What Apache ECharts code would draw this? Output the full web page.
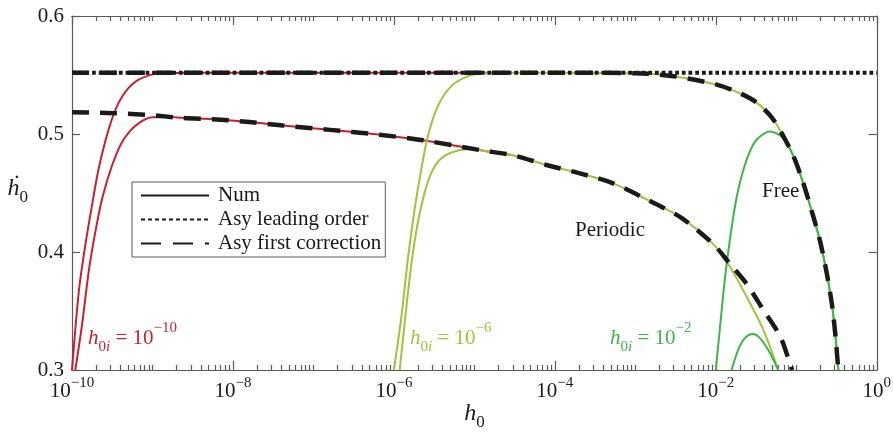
<!DOCTYPE html>
<html>
<head>
<meta charset="utf-8">
<title>h0 dot vs h0</title>
<script src="https://cdn.jsdelivr.net/npm/echarts@6/dist/echarts.min.js"></script>
<style>
html, body { margin: 0; padding: 0; background: #fff; }
#main { width: 894px; height: 436px; }
</style>
</head>
<body>
<div id="main"></div>
<script>
// values (h0 on a log axis, h0-dot linear)
var xTickExp = [-10, -8, -6, -4, -2, 0];
var yTicks = [0.3, 0.4, 0.5, 0.6];

// asymptotics
var leadH = [1e-10, 1];
var leadV = [0.552, 0.552];

var perAsyH = [1e-10, 3.4e-10, 8.7e-10, 2.3e-9, 6.3e-9, 1.6e-8, 4.2e-8, 1.6e-7, 6.6e-7, 2.3e-6, 1.2e-5, 3.0e-5, 7.9e-5, 2.0e-4, 5.2e-4, 1.4e-3, 3.7e-3, 9.3e-3, 0.015, 0.024, 0.039, 0.063, 0.083, 0.089];
var perAsyV = [0.5185, 0.5176, 0.5162, 0.5137, 0.5123, 0.5101, 0.5072, 0.5035, 0.4994, 0.4947, 0.4863, 0.482, 0.4737, 0.4668, 0.4584, 0.4444, 0.4291, 0.4067, 0.3899, 0.3732, 0.3509, 0.3285, 0.3061, 0.30];

var freeAsyH = [1e-10, 1e-4, 1e-3, 3e-3, 0.01, 0.02, 0.032, 0.051, 0.087, 0.12, 0.16, 0.197, 0.24, 0.28, 0.31, 0.33, 0.335];
var freeAsyV = [0.552, 0.552, 0.5515, 0.549, 0.542, 0.5345, 0.5268, 0.5129, 0.485, 0.46, 0.4318, 0.4095, 0.3815, 0.3536, 0.3257, 0.3034, 0.30];

// numerics, h0i = 1e-10 (red)
var redFreeH = [1e-10, 1.22e-10, 1.47e-10, 1.78e-10, 2.15e-10, 2.87e-10, 3.82e-10, 5.6e-10, 9.0e-10, 1.46e-9, 3e-9, 2e-5];
var redFreeV = [0.3, 0.3676, 0.4067, 0.4402, 0.471, 0.5045, 0.5268, 0.5422, 0.5497, 0.5515, 0.552, 0.552];
var redPerH = [1.1e-10, 1.34e-10, 1.62e-10, 1.96e-10, 2.38e-10, 3.16e-10, 4.2e-10, 6.2e-10, 9.9e-10, 1.76e-9];
var redPerV = [0.3, 0.3396, 0.3844, 0.4179, 0.4458, 0.4737, 0.4933, 0.5072, 0.5143, 0.5145];

// numerics, h0i = 1e-6 (olive)
var oliFreeH = [1e-6, 1.24e-6, 1.5e-6, 1.82e-6, 2.2e-6, 2.66e-6, 3.54e-6, 5.2e-6, 8.4e-6, 1.35e-5, 3e-5];
var oliFreeV = [0.3, 0.3453, 0.3955, 0.4374, 0.471, 0.4989, 0.524, 0.5408, 0.5491, 0.5515, 0.552];
var oliPerH = [1.18e-6, 1.36e-6, 1.65e-6, 2.0e-6, 2.65e-6, 3.54e-6, 5.2e-6, 9.2e-6, 1.63e-5];
var oliPerV = [0.3, 0.3396, 0.3899, 0.4263, 0.4598, 0.4766, 0.4843, 0.4872, 0.4845];
var oliTailH = [0.015, 0.0242, 0.039, 0.0597];
var oliTailV = [0.3875, 0.362, 0.334, 0.30];

// numerics, h0i = 1e-2 (green)
var grnFreeH = [0.01, 0.0112, 0.0129, 0.0149, 0.0181, 0.023, 0.0306, 0.047, 0.066];
var grnFreeV = [0.3, 0.3341, 0.376, 0.4095, 0.4458, 0.4737, 0.4933, 0.5022, 0.4975];
var grnPerH = [0.0157, 0.019, 0.023, 0.0287, 0.0354, 0.047, 0.0597];
var grnPerV = [0.3, 0.3173, 0.327, 0.3305, 0.327, 0.3145, 0.3];

var RED = '#c8202e', OLIVE = '#9ec33c', GREEN = '#3db54a', INK = '#1a1a1a';
var FONT = "'Liberation Serif', 'DejaVu Serif', serif";

function pairs(h, v) {
  return h.map(function (x, i) { return [x, v[i]]; });
}
function between(h, v, lo, hi) {
  return pairs(h, v).filter(function (p) { return p[0] > lo && p[0] < hi; });
}

var redPer = pairs(redPerH, redPerV).concat(between(perAsyH, perAsyV, 2e-9, 4e-5));
var oliFree = pairs(oliFreeH, oliFreeV).concat(between(freeAsyH, freeAsyV, 5e-5, 1));
var oliPer = pairs(oliPerH, oliPerV).concat(between(perAsyH, perAsyV, 2e-5, 0.01), pairs(oliTailH, oliTailV));
var grnFree = pairs(grnFreeH, grnFreeV).concat(between(freeAsyH, freeAsyV, 0.08, 1));

// log ticks
var majorTicks = xTickExp.map(function (e) { return Math.pow(10, e); });
var minorTicks = [];
for (var e = -10; e < 0; e++) {
  for (var m = 2; m <= 9; m++) minorTicks.push(m * Math.pow(10, e));
  if (majorTicks.indexOf(Math.pow(10, e)) < 0) minorTicks.push(Math.pow(10, e));
}

var axisLine = { show: true, lineStyle: { color: '#5a5a5a', width: 1.2 } };
var tickStyle = { color: '#5a5a5a', width: 1.2 };

function logAxis(pos, ticks, len, withLabels) {
  var ax = {
    type: 'log', logBase: 10, min: 1e-10, max: 1, position: pos,
    axisLine: axisLine,
    axisTick: { show: true, inside: true, length: len, customValues: ticks, lineStyle: tickStyle },
    axisLabel: { show: false },
    splitLine: { show: false },
    minorTick: { show: false }
  };
  if (withLabels) {
    ax.axisLabel = {
      show: true, margin: 6, customValues: ticks, color: INK, fontFamily: FONT,
      formatter: function (v) {
        var ex = Math.round(Math.log10(v));
        return '{b|10}{e|' + (ex < 0 ? '\u2212' + (-ex) : ex) + '}';
      },
      rich: {
        b: { fontSize: 21, lineHeight: 30, fontFamily: FONT, color: INK },
        e: { fontSize: 15, lineHeight: 18, verticalAlign: 'top', fontFamily: FONT, color: INK }
      }
    };
    ax.name = '{h|h}{s|0}';
    ax.nameLocation = 'middle';
    ax.nameGap = 27;
    ax.nameMoveOverlap = false;
    ax.nameTextStyle = {
      rich: {
        h: { fontSize: 24, lineHeight: 34, fontStyle: 'italic', fontFamily: FONT, color: INK },
        s: { fontSize: 17, lineHeight: 10, verticalAlign: 'bottom', fontFamily: FONT, color: INK }
      }
    };
  }
  return ax;
}

function valAxis(pos, withLabels) {
  var ax = {
    type: 'value', min: 0.3, max: 0.6, interval: 0.1, position: pos,
    axisLine: axisLine,
    axisTick: { show: true, inside: true, length: 8, lineStyle: tickStyle },
    axisLabel: { show: withLabels, margin: 8, color: INK, fontFamily: FONT, fontSize: 21,
      formatter: function (v) { return v.toFixed(1); } },
    splitLine: { show: false }
  };
  if (withLabels) {
    ax.name = '{h|\u1e23}{s|0}';
    ax.nameLocation = 'middle';
    ax.nameRotate = 0;
    ax.nameGap = 44;
    ax.nameMoveOverlap = false;
    ax.nameTextStyle = {
      padding: [0, 0, 8, 0],
      rich: {
        h: { fontSize: 24, lineHeight: 34, fontStyle: 'italic', fontFamily: FONT, color: INK },
        s: { fontSize: 17, lineHeight: 10, verticalAlign: 'bottom', fontFamily: FONT, color: INK }
      }
    };
  }
  return ax;
}

function numLine(color, data) {
  return { type: 'line', data: data, symbol: 'none', smooth: 0.3,
    lineStyle: { color: color, width: 2 }, silent: true, z: 2 };
}
function asyLine(name, data, dash, width) {
  return { name: name, type: 'line', data: data, symbol: 'none', smooth: 0.3,
    lineStyle: { color: INK, width: width, type: dash, cap: 'butt' }, silent: true, z: 3 };
}
function legendSample(name, width, dash) {
  return { name: name, type: 'line', data: [], symbol: 'none', showSymbol: false,
    itemStyle: { color: 'rgba(0,0,0,0)', borderWidth: 0 },
    lineStyle: { color: INK, width: width, type: dash, cap: 'butt' } };
}

function rich(color) {
  return {
    h: { fontSize: 21, lineHeight: 34, fontStyle: 'italic', fontFamily: FONT, fill: color },
    s: { fontSize: 15, lineHeight: 14, verticalAlign: 'bottom', fontFamily: FONT, fill: color },
    si: { fontSize: 15, lineHeight: 14, verticalAlign: 'bottom', fontStyle: 'italic', fontFamily: FONT, fill: color },
    t: { fontSize: 21, lineHeight: 34, fontFamily: FONT, fill: color },
    e: { fontSize: 15, lineHeight: 20, verticalAlign: 'top', fontFamily: FONT, fill: color }
  };
}
function h0iLabel(x, y, exp, color) {
  return { type: 'text', x: x, y: y, silent: true, z: 10,
    style: { text: '{h|h}{s|0}{si|i}{t| = 10}{e|\u2212' + exp + '}', rich: rich(color),
      align: 'left', verticalAlign: 'middle', fill: color } };
}
function plainLabel(x, y, txt) {
  return { type: 'text', x: x, y: y, silent: true, z: 10,
    style: { text: txt, font: '21px ' + FONT, fill: INK, align: 'left', verticalAlign: 'middle' } };
}

var chart = echarts.init(document.getElementById('main'), null, { renderer: 'canvas' });
chart.setOption({
  animation: false,
  backgroundColor: '#fff',
  grid: { left: 72, right: 17, top: 16, bottom: 62, containLabel: false },
  xAxis: [
    logAxis('bottom', majorTicks, 9, true),
    logAxis('bottom', minorTicks, 5, false),
    logAxis('top', majorTicks, 9, false),
    logAxis('top', minorTicks, 5, false)
  ],
  yAxis: [valAxis('left', true), valAxis('right', false)],
  legend: {
    data: ['Num', 'Asy leading order', 'Asy first correction'],
    orient: 'vertical', left: 132, top: 182,
    itemWidth: 68, itemHeight: 10, itemGap: 3,
    padding: [3, 4, 3, 8],
    borderColor: '#5a5a5a', borderWidth: 1, borderRadius: 0,
    selectedMode: false,
    itemStyle: { opacity: 0 },
    textStyle: { fontFamily: FONT, fontSize: 21, color: INK, padding: [0, 0, 0, 4] }
  },
  graphic: [
    h0iLabel(88, 338, 10, RED),
    h0iLabel(410, 338, 6, OLIVE),
    h0iLabel(610, 338, 2, GREEN),
    plainLabel(575, 230, 'Periodic'),
    plainLabel(762, 191, 'Free')
  ],
  series: [
    // legend samples
    legendSample('Num', 2, 'solid'),
    legendSample('Asy leading order', 4, [4, 3]),
    legendSample('Asy first correction', 4.5, [20, 12]),
    // numerical solutions
    numLine(RED, pairs(redFreeH, redFreeV)),
    numLine(RED, redPer),
    numLine(OLIVE, oliFree),
    numLine(OLIVE, oliPer),
    numLine(GREEN, grnFree),
    numLine(GREEN, pairs(grnPerH, grnPerV)),
    // asymptotics
    asyLine('lead', pairs(leadH, leadV), [3.8, 2.9], 4),
    asyLine('free', pairs(freeAsyH, freeAsyV), [17, 11], 4.5),
    asyLine('periodic', pairs(perAsyH, perAsyV), [17, 11], 4.5)
  ]
});
</script>
</body>
</html>
